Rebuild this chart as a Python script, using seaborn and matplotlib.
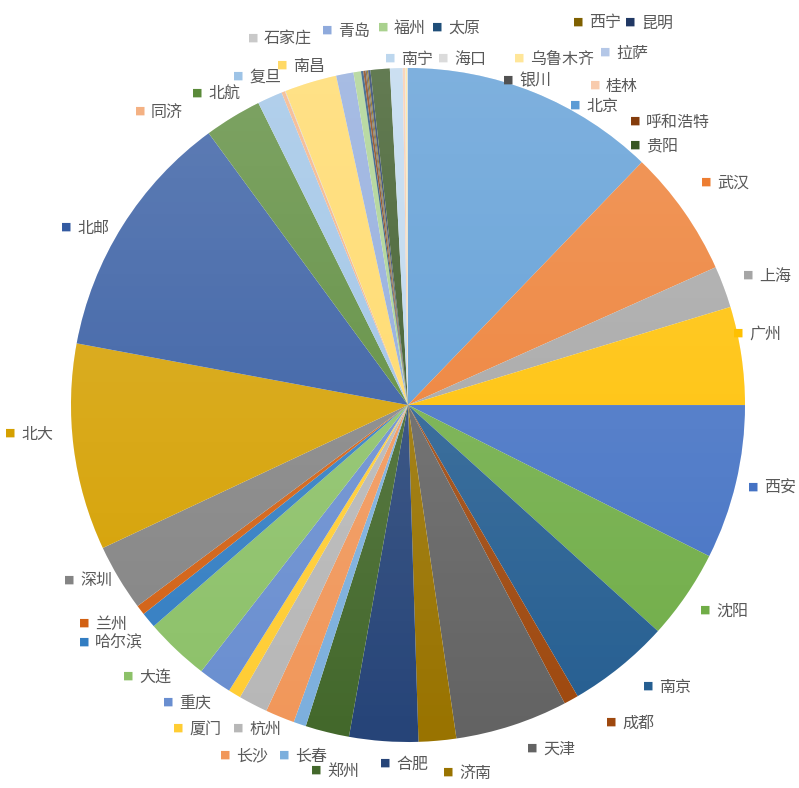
import numpy as np
import matplotlib
matplotlib.use("Agg")
import matplotlib.pyplot as plt
import seaborn as sns
from matplotlib.patches import Circle

sns.set_theme(style="white")
plt.rcParams['font.family'] = ['Noto Sans CJK SC', 'DejaVu Sans']

# slices, clockwise from 12 o'clock
cities = ["北京", "武汉", "上海", "广州", "西安", "沈阳", "南京", "成都", "天津", "济南",
          "合肥", "郑州", "长春", "长沙", "杭州", "厦门", "重庆", "大连", "哈尔滨", "兰州",
          "深圳", "北大", "北邮", "北航", "复旦", "同济", "石家庄", "南昌", "青岛", "福州",
          "太原", "呼和浩特", "银川", "西宁", "昆明", "贵阳", "南宁", "桂林", "海口", "乌鲁木齐",
          "拉萨"]
values = [122, 61, 20, 47, 74, 43, 49, 7, 54, 18,
          33, 21, 6, 14, 14, 6, 16, 31, 7.5, 4.7,
          32, 99, 120, 27.5, 12, 1.7, 0.3, 25, 8.3, 3.6,
          1.1, 1.1, 0.6, 0.6, 1.1, 9.2, 6.1, 1.1, 0.3, 0.8,
          0.3]

colors = ["#5B9BD5", "#ED7D31", "#A5A5A5", "#FFC000", "#4472C4", "#70AD47",
          "#255E91", "#9E480E", "#636363", "#997300", "#264478", "#43682B",
          "#7CAFDD", "#F1975A", "#B7B7B7", "#FFCD33", "#698ED0", "#8CC168",
          "#327DC2", "#D26012", "#848484", "#D5A000", "#335AA1", "#5A8A39",
          "#9DC3E6", "#F4B183", "#C9C9C9", "#FFD966", "#8FAADC", "#A9D18E",
          "#1F4E79", "#843C0C", "#525252", "#7F6000", "#203864", "#385723",
          "#BDD7EE", "#F8CBAD", "#DBDBDB", "#FFE699", "#B4C7E7"]

# label anchor (square centre) in pixels of the 799x788 canvas
label_pos = {
    "石家庄": (253, 38), "青岛": (327, 30), "福州": (383, 27), "太原": (437, 27),
    "西宁": (578, 22), "昆明": (630, 22), "南宁": (390, 58), "海口": (443, 58),
    "乌鲁木齐": (519, 58), "拉萨": (605, 52), "银川": (508, 80), "桂林": (595, 85),
    "北京": (575, 105), "呼和浩特": (635, 121), "贵阳": (635, 145), "武汉": (706, 182),
    "上海": (748, 275), "广州": (738, 333), "西安": (753, 487), "沈阳": (705, 610),
    "南京": (648, 686), "成都": (611, 722), "天津": (532, 748), "济南": (448, 772),
    "合肥": (385, 763), "郑州": (316, 770), "长春": (284, 755), "长沙": (225, 755),
    "杭州": (238, 728), "厦门": (178, 728), "重庆": (168, 702), "大连": (128, 676),
    "哈尔滨": (84, 642), "兰州": (84, 623), "深圳": (69, 580), "北大": (10, 433),
    "北邮": (66, 227), "同济": (140, 111), "北航": (197, 93), "复旦": (238, 76),
    "南昌": (282, 65),
}

W, H = 799, 788
fig = plt.figure(figsize=(W / 100, H / 100), dpi=100)
cx, cy, r = 408, 405, 337
ax = fig.add_axes([(cx - r) / W, 1 - (cy + r) / H, 2 * r / W, 2 * r / H])

wedges, _ = ax.pie(values, colors=colors, startangle=90, counterclock=False,
                   radius=1, wedgeprops=dict(linewidth=0))

# soft top-to-bottom light gradient like the office chart style
grad = np.linspace(1, 0, 256).reshape(-1, 1)
overlay = np.ones((256, 1, 4))
overlay[..., 3] = 0.22 * grad
im = ax.imshow(overlay, extent=[-1, 1, -1, 1], aspect="auto", zorder=3)
im.set_clip_path(Circle((0, 0), 1, transform=ax.transData))

ax.set_xlim(-1, 1)
ax.set_ylim(-1, 1)
ax.axis("off")

for name, col in zip(cities, colors):
    px, py = label_pos[name]
    fig.text(px / W, 1 - py / H, "■", color=col, fontsize=8,
             family="DejaVu Sans", ha="center", va="center")
    fig.text((px + 11) / W, 1 - (py + 1) / H, name, color="#595959",
             fontsize=11.5, ha="left", va="center")

fig.savefig("out.png", dpi=100, facecolor="white")
